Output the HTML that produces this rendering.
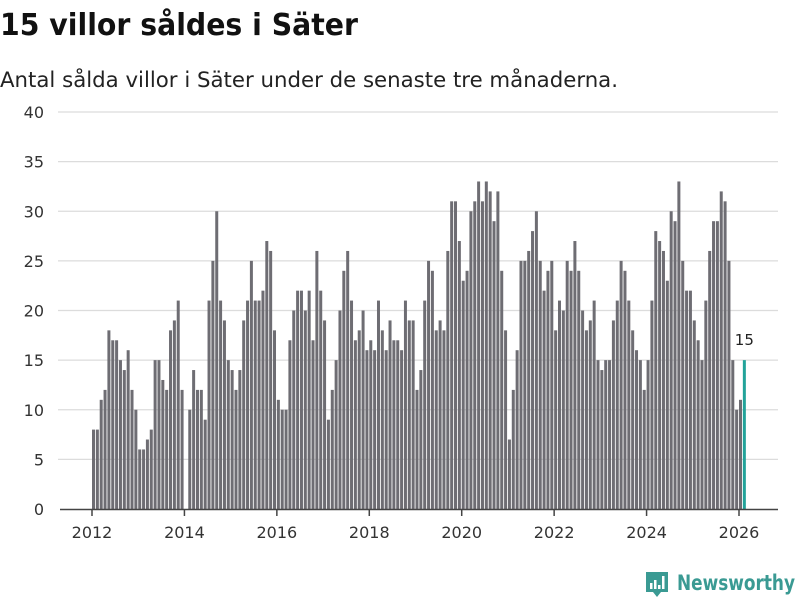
<!DOCTYPE html>
<html><head><meta charset="utf-8"><style>
body{margin:0;background:#fff;}
svg{display:block;font-family:"DejaVu Sans","Liberation Sans",sans-serif;}
</style></head><body>
<svg id="chart" width="800" height="600" viewBox="0 0 800 600" xmlns="http://www.w3.org/2000/svg">
<text x="0" y="35" font-size="30" font-weight="bold" fill="#111" textLength="358" lengthAdjust="spacingAndGlyphs">15 villor såldes i Säter</text>
<text x="0" y="87" font-size="21" fill="#222" textLength="618" lengthAdjust="spacingAndGlyphs">Antal sålda villor i Säter under de senaste tre månaderna.</text>
<g id="grid"></g>
<g id="bars"></g>
<g id="xaxis"></g>
<g>
<path d="M646 572h22v20h-7l-4 5-4-5h-7z" fill="#3a9a93"/>
<rect x="650" y="583" width="2.5" height="6" fill="#fff"/><rect x="654" y="580" width="2.5" height="9" fill="#fff"/><rect x="658" y="585" width="2.5" height="4" fill="#fff"/><rect x="662" y="576" width="2.5" height="13" fill="#fff"/>
<text x="677" y="590" font-size="21" font-weight="bold" fill="#3a9a93" textLength="118" lengthAdjust="spacingAndGlyphs">Newsworthy</text>
</g>
</svg>
<script>
const values = [8,8,11,12,18,17,17,15,14,16,12,10,
6,6,7,8,15,15,13,12,18,19,21,12,
0,10,14,12,12,9,21,25,30,21,19,15,
14,12,14,19,21,25,21,21,22,27,26,18,
11,10,10,17,20,22,22,20,22,17,26,22,
19,9,12,15,20,24,26,21,17,18,20,16,
17,16,21,18,16,19,17,17,16,21,19,19,
12,14,21,25,24,18,19,18,26,31,31,27,
23,24,30,31,33,31,33,32,29,32,24,18,
7,12,16,25,25,26,28,30,25,22,24,25,
18,21,20,25,24,27,24,20,18,19,21,15,
14,15,15,19,21,25,24,21,18,16,15,12,
15,21,28,27,26,23,30,29,33,25,22,22,
19,17,15,21,26,29,29,32,31,25,15,10,
11,15];
const startYear = 2012;
const yTicks = [0,5,10,15,20,25,30,35,40];
const xTickYears = [2012,2014,2016,2018,2020,2022,2024,2026];
</script>
<script>
const NS="http://www.w3.org/2000/svg";
const x0=92, pxMonth=(739-92)/168, y0=509, pxUnit=(509-112)/40;
const xs=i=>x0+i*pxMonth, ys=v=>y0-v*pxUnit;
function mk(tag,attrs,parent){const e=document.createElementNS(NS,tag);for(const k in attrs)e.setAttribute(k,attrs[k]);parent.appendChild(e);return e;}
const grid=document.getElementById('grid');
yTicks.forEach(t=>{
 if(t>0){const l=mk('line',{x1:58,x2:778,y1:ys(t),y2:ys(t),stroke:'#dcdcdc','stroke-width':1.3},grid);
 
 }
 const tx=mk('text',{x:44,y:ys(t)+6,'font-size':16,fill:'#333','text-anchor':'end'},grid);
 tx.textContent=t;
 
 
});
const bars=document.getElementById('bars');
const last=values.length-1;
values.forEach((v,i)=>{
 const r=mk('rect',{x:xs(i),y:ys(v),width:3,height:v*pxUnit,fill:i===last?'#22a39a':'#6e6d73'},bars);
 
 
});
const lab=mk('text',{x:xs(last)+1.5,y:ys(values[last])-15,'font-size':15,fill:'#222','text-anchor':'middle'},bars);
lab.textContent=values[last];


const xa=document.getElementById('xaxis');
const ax=mk('line',{x1:60,x2:778,y1:509.5,y2:509.5,stroke:'#444','stroke-width':1.5},xa);


xTickYears.forEach(yr=>{
 const x=xs((yr-startYear)*12);
 const tk=mk('line',{x1:x,x2:x,y1:509,y2:516,stroke:'#444','stroke-width':1.5},xa);
 
 
 const t=mk('text',{x:x,y:538,'font-size':16,fill:'#333','text-anchor':'middle'},xa);
 t.textContent=yr;
 
 
});
</script>
</body></html>
